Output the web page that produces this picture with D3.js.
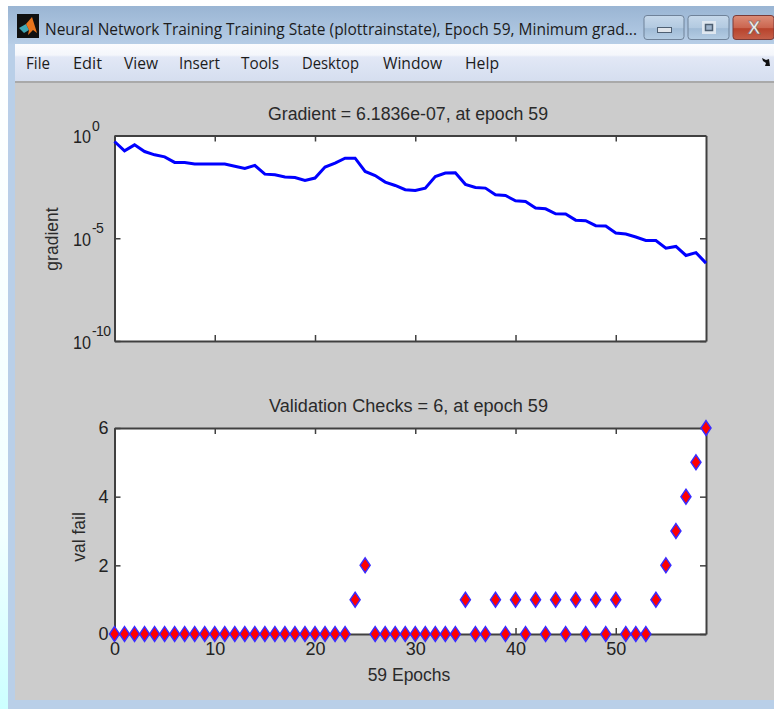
<!DOCTYPE html>
<html>
<head>
<meta charset="utf-8">
<script src="https://cdn.jsdelivr.net/npm/d3@7"></script>
<style>
  html, body { margin: 0; padding: 0; background: #fff; overflow: hidden; }
  svg { display: block; }
  .axis text { font-family: "Liberation Sans", Arial, sans-serif; font-size: 18px; fill: #222; }
  .axis path { stroke: #404040; stroke-width: 2px; }
  .axis line { stroke: #404040; stroke-width: 1.5px; }
  .label { font-family: "Liberation Sans", Arial, sans-serif; font-size: 17.5px; fill: #2a2a2a; text-anchor: middle; }
  .chrome { font-family: "Open Sans", "Noto Sans", sans-serif; fill: #1c1c1c; }
</style>
</head>
<body>
<svg id="svg" width="774" height="709"></svg>
<script>
// epochs and values
const gradientValues = [
  0.51, 0.18, 0.35, 0.166, 0.115, 0.091, 0.049, 0.049, 0.041, 0.041,
  0.041, 0.041, 0.032, 0.0247, 0.035, 0.0132, 0.0122, 0.0095, 0.0091, 0.0065,
  0.0085, 0.029, 0.045, 0.079, 0.079, 0.0178, 0.0113, 0.0054, 0.0037, 0.0023,
  0.0021, 0.00275, 0.01, 0.0148, 0.0153, 0.0042, 0.00295, 0.00275, 0.0013, 0.0012,
  6.6e-4, 6.2e-4, 2.95e-4, 2.7e-4, 1.55e-4, 1.5e-4, 7.6e-5, 7.2e-5, 4.1e-5, 3.9e-5,
  1.8e-5, 1.6e-5, 1.15e-5, 7.8e-6, 7.8e-6, 3.3e-6, 4.0e-6, 1.45e-6, 2.0e-6, 6.1836e-7
];
const valFail = [
  0, 0, 0, 0, 0, 0, 0, 0, 0, 0,
  0, 0, 0, 0, 0, 0, 0, 0, 0, 0,
  0, 0, 0, 0, 1, 2, 0, 0, 0, 0,
  0, 0, 0, 0, 0, 1, 0, 0, 1, 0,
  1, 0, 1, 0, 1, 0, 1, 0, 1, 0,
  1, 0, 0, 0, 1, 2, 3, 4, 5, 6
];
const epochTicks = [0, 10, 20, 30, 40, 50];
const gradientTicks = [1, 1e-5, 1e-10];
const gradientExponents = ["0", "-5", "-10"];
const failTicks = [0, 2, 4, 6];
const menuItems = ["File", "Edit", "View", "Insert", "Tools", "Desktop", "Window", "Help"];
const windowTitle = "Neural Network Training Training State (plottrainstate), Epoch 59, Minimum grad...";

const svg = d3.select("#svg");
const defs = svg.append("defs");

function gradient(id, stops) {
  const g = defs.append("linearGradient").attr("id", id)
    .attr("x1", 0).attr("y1", 0).attr("x2", 0).attr("y2", 1);
  stops.forEach(s => g.append("stop").attr("offset", s[0]).attr("stop-color", s[1]));
}
gradient("page", [[0, "#ffffff"], [0.75, "#f2ffff"], [1, "#ccffff"]]);
gradient("titlebar", [[0, "#9ab5d3"], [1, "#b6cde6"]]);
gradient("menubar", [[0, "#fbfcfe"], [0.3, "#f4f6fb"], [0.35, "#e2e8f6"], [1, "#d5deef"]]);
gradient("btn", [[0, "#c6d8ea"], [0.5, "#b3cae1"], [0.55, "#a0bbd6"], [1, "#b5cde4"]]);
gradient("btnClose", [[0, "#dc8d78"], [0.5, "#cb6650"], [0.55, "#b8432c"], [1, "#c4604a"]]);

// window frame
svg.append("rect").attr("width", 774).attr("height", 709).attr("fill", "url(#page)");
svg.append("rect").attr("x", 8).attr("y", 6).attr("width", 766).attr("height", 703).attr("fill", "#b9cfe8");
svg.append("rect").attr("x", 8).attr("y", 6).attr("width", 766).attr("height", 38).attr("fill", "url(#titlebar)");
svg.append("rect").attr("x", 15).attr("y", 44).attr("width", 759).attr("height", 37).attr("fill", "url(#menubar)");
svg.append("rect").attr("x", 15).attr("y", 81).attr("width", 759).attr("height", 2).attr("fill", "#a9a9a9");
svg.append("rect").attr("x", 15).attr("y", 83).attr("width", 759).attr("height", 617).attr("fill", "#cccccc");

// matlab icon
svg.append("rect").attr("x", 17).attr("y", 14).attr("width", 22).attr("height", 24).attr("fill", "#101010");
svg.append("path").attr("d", "M19 28L26 24L29 30L24 33Z").attr("fill", "#3fa6b4");
svg.append("path").attr("d", "M26 24L32 17L37 33L33 30L28 35L29 30Z").attr("fill", "#e8741c");

svg.append("text").attr("class", "chrome").attr("x", 45).attr("y", 35)
  .attr("font-size", 16).attr("textLength", 592).attr("lengthAdjust", "spacingAndGlyphs")
  .text(windowTitle);

// title bar buttons
[[644, 40, "url(#btn)", "#6f8299"], [688, 41, "url(#btn)", "#6f8299"], [733, 41, "url(#btnClose)", "#7a3b38"]].forEach(b => {
  svg.append("rect").attr("x", b[0]).attr("y", 15.5).attr("width", b[1]).attr("height", 24).attr("rx", 3)
    .attr("fill", b[2]).attr("stroke", b[3]);
});
svg.append("rect").attr("x", 657.5).attr("y", 27.5).attr("width", 14).attr("height", 5)
  .attr("fill", "#dfe4ea").attr("stroke", "#4e5f72");
svg.append("rect").attr("x", 702).attr("y", 21).attr("width", 14).attr("height", 13)
  .attr("fill", "#dfe7f0");
svg.append("rect").attr("x", 705.5).attr("y", 24.5).attr("width", 7).attr("height", 6)
  .attr("fill", "#9fb4cc").attr("stroke", "#4e5f72").attr("stroke-width", 1.5);
svg.append("text").attr("x", 754).attr("y", 34).attr("text-anchor", "middle")
  .attr("font-family", "Liberation Sans").attr("font-weight", "bold").attr("font-size", 19)
  .attr("fill", "#ececec").attr("stroke", "#6b5a58").attr("stroke-width", 0.5).text("X");

// menu
const menuLeft = [26, 73, 124, 179, 241, 302, 383, 465];
const menuWidth = [24, 29, 34, 41, 38, 57, 59, 34];
svg.selectAll(".menu").data(menuItems).enter().append("text")
  .attr("class", "chrome menu")
  .attr("x", (d, i) => menuLeft[i]).attr("y", 69).attr("font-size", 16)
  .attr("textLength", (d, i) => menuWidth[i]).attr("lengthAdjust", "spacingAndGlyphs")
  .text(d => d);
svg.append("path").attr("d", "M762 58L766 60L769 59L770 66L765 66L766 63L763 61Z").attr("fill", "#111");

// plot geometry
const left = 114.5, right = 706;
const xScale = d3.scaleLinear().domain([0, 59]).range([left, right]);
const yGrad = d3.scaleLog().domain([1e-10, 1]).range([341, 135.5]);
const yFail = d3.scaleLinear().domain([0, 6]).range([634, 428]);

function box(yScale, ticks, format) {
  const top = yScale.range()[1], bottom = yScale.range()[0];
  svg.append("rect").attr("x", left).attr("y", top)
    .attr("width", right - left).attr("height", bottom - top).attr("fill", "#fff");

  const xb = svg.append("g").attr("class", "axis").attr("transform", `translate(0,${bottom})`)
    .call(d3.axisBottom(xScale).tickValues(epochTicks).tickSize(-6).tickSizeOuter(0).tickPadding(8));
  svg.append("g").attr("class", "axis").attr("transform", `translate(0,${top})`)
    .call(d3.axisTop(xScale).tickValues(epochTicks).tickSize(-6).tickSizeOuter(0).tickFormat(""));
  const yl = svg.append("g").attr("class", "axis").attr("transform", `translate(${left},0)`)
    .call(d3.axisLeft(yScale).tickValues(ticks).tickSize(-6).tickSizeOuter(0).tickPadding(6).tickFormat(format));
  svg.append("g").attr("class", "axis").attr("transform", `translate(${right},0)`)
    .call(d3.axisRight(yScale).tickValues(ticks).tickSize(-6).tickSizeOuter(0).tickFormat(""));
  return { xb, yl };
}

// gradient panel
const gradAxes = box(yGrad, gradientTicks, () => "");
gradAxes.xb.selectAll("text").remove();
gradAxes.yl.selectAll(".tick text").each(function (d, i) {
  const t = d3.select(this).attr("text-anchor", "start").attr("x", -41.5).attr("y", 7.2).attr("dy", 0);
  t.append("tspan").attr("textLength", 18).attr("lengthAdjust", "spacingAndGlyphs").text("10");
  t.append("tspan").attr("dx", 1).attr("dy", -12.5).attr("font-size", 14).attr("letter-spacing", -0.6).text(gradientExponents[i]);
});

const valueline = d3.line()
  .x((d, i) => xScale(i))
  .y(d => yGrad(d));

svg.append("path")
  .datum(gradientValues)
  .attr("d", valueline)
  .style("fill", "none")
  .style("stroke", "#0000ff")
  .style("stroke-width", "3px");

// validation panel
box(yFail, failTicks, d3.format("d"));

function diamond(w, h) {
  return `M0,${-h}L${w},0L0,${h}L${-w},0Z`;
}
svg.selectAll(".fail").data(valFail).enter().append("path")
  .attr("class", "fail")
  .attr("transform", (d, i) => `translate(${xScale(i)},${yFail(d)})`)
  .attr("d", diamond(5, 7.4))
  .attr("fill", "#ff0000")
  .attr("stroke", "#3a2cff")
  .attr("stroke-width", 1.5);

// titles and labels
svg.append("text").attr("class", "label").attr("x", 408).attr("y", 120)
  .attr("textLength", 280).attr("lengthAdjust", "spacingAndGlyphs").text("Gradient = 6.1836e-07, at epoch 59");
svg.append("text").attr("class", "label").attr("x", 408.5).attr("y", 412)
  .attr("textLength", 279).attr("lengthAdjust", "spacingAndGlyphs").text("Validation Checks = 6, at epoch 59");
svg.append("text").attr("class", "label").attr("x", 409).attr("y", 681).text("59 Epochs");
svg.append("text").attr("class", "label")
  .attr("transform", "translate(58,239) rotate(-90)").text("gradient");
svg.append("text").attr("class", "label")
  .attr("transform", "translate(85,537) rotate(-90)").text("val fail");
</script>
</body>
</html>
